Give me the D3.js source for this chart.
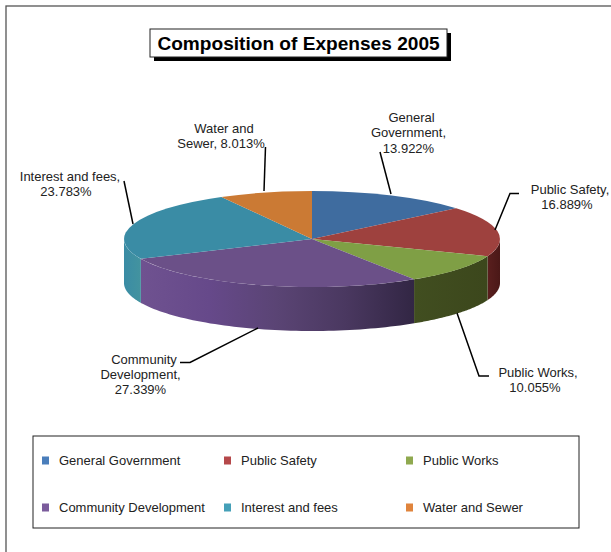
<!DOCTYPE html>
<html>
<head>
<meta charset="utf-8">
<script src="https://cdn.jsdelivr.net/npm/d3@7/dist/d3.min.js"></script>
<style>
  html, body { margin: 0; padding: 0; background: #fff; overflow: hidden; }
  svg { display: block; font-family: "Liberation Sans", Arial, sans-serif; }
</style>
</head>
<body>
<svg id="chart" width="611" height="552"></svg>
<script>
// Expense categories and their share of the 2005 total, percent
const categories = ["General Government", "Public Safety", "Public Works",
                    "Community Development", "Interest and fees", "Water and Sewer"];
const shares = [13.922, 16.889, 10.055, 27.339, 23.783, 8.013];

// Callout wording, one array of leading lines per slice; the percentage is appended from shares
const calloutLines = [
  ["General", "Government,"],
  ["Public Safety,"],
  ["Public Works,"],
  ["Community", "Development,"],
  ["Interest and fees,"],
  ["Water and"]
];
const topColors    = ["#3f6c9f", "#9e413e", "#7f9f45", "#6b5088", "#3a8ca5", "#cb7a34"];
const legendColors = ["#4a7ebb", "#b5484a", "#8fa94f", "#7b5c9c", "#45a0b8", "#e0843c"];
// Colour ramps of the rim, left to right, for each slice
const rimRamps = [
  ["#3f6c9f", "#3f6c9f"],
  ["#5a1f1e", "#4a1817"],
  ["#414e20", "#3c471c"],
  ["#6f5290", "#66498a", "#5a4474", "#4a3860", "#322644"],
  ["#3a8ca5", "#43939f"],
  ["#cb7a34", "#cb7a34"]
];

// Pie geometry
const cx = 312, cy = 239, rx = 188, ry = 48, depth = 44;

// Per-slice callout layout: centre of each text line, first baseline, leader polyline
const calloutLayout = [
  { centers: [411.5, 408.5, 408.5], y: 122, leader: [[380, 152], [391, 194]] },
  { centers: [570, 567],            y: 193.5, leader: [[519, 193.5], [510, 193.5], [495, 230]] },
  { centers: [538, 535],            y: 376.5, leader: [[457, 313], [479, 376], [489, 376]] },
  { centers: [144, 140.5, 140.5],   y: 363.5, leader: [[180, 362.5], [190, 362.5], [258, 328]] },
  { centers: [70, 66],              y: 181, leader: [[124, 181], [133, 224]] },
  { centers: [224, 221],            y: 132.5, leader: [[265.5, 147], [264, 191]] }
];
const lineStep = 15.3;

const svg = d3.select("#chart");
const defs = svg.append("defs");

// Chart frame runs off the right and bottom of the page
svg.append("rect").attr("x", 6).attr("y", 6).attr("width", 640).attr("height", 600)
  .attr("fill", "#fff").attr("stroke", "#555").attr("stroke-width", 1.3);

// Title box with hard drop shadow
const titleBox = { x: 150, y: 29, w: 297, h: 28, off: 4 };
svg.append("rect").attr("x", titleBox.x + titleBox.off).attr("y", titleBox.y + titleBox.off)
  .attr("width", titleBox.w).attr("height", titleBox.h).attr("fill", "#000");
svg.append("rect").attr("x", titleBox.x).attr("y", titleBox.y)
  .attr("width", titleBox.w).attr("height", titleBox.h)
  .attr("fill", "#fff").attr("stroke", "#222").attr("stroke-width", 1);
svg.append("text").attr("x", titleBox.x + titleBox.w / 2).attr("y", 50)
  .attr("text-anchor", "middle").attr("font-size", 19.1).attr("font-weight", "bold")
  .attr("fill", "#000").text("Composition of Expenses 2005");

// Slice angles, clockwise from twelve o'clock
const slices = d3.pie().sort(null).value(d => d)(shares);

const px = a => cx + rx * Math.sin(a);
const py = a => cy - ry * Math.cos(a);

// Rim: only the front half of the ellipse is visible
const rimStart = Math.PI / 2, rimEnd = Math.PI * 3 / 2;
const rim = svg.append("g");
slices.forEach((s, i) => {
  const a0 = Math.max(s.startAngle, rimStart), a1 = Math.min(s.endAngle, rimEnd);
  if (a1 <= a0) return;
  const xs = [px(a0), px(a1)];
  const gid = "rim" + i;
  const g = defs.append("linearGradient").attr("id", gid)
    .attr("gradientUnits", "userSpaceOnUse")
    .attr("x1", d3.min(xs)).attr("x2", d3.max(xs)).attr("y1", 0).attr("y2", 0);
  rimRamps[i].forEach((c, k, arr) => {
    g.append("stop").attr("offset", k / (arr.length - 1)).attr("stop-color", c);
  });
  const angles = d3.range(0, 61).map(k => a0 + (a1 - a0) * k / 60);
  const upper = angles.map(a => [px(a), py(a)]);
  const lower = angles.slice().reverse().map(a => [px(a), py(a) + depth]);
  rim.append("path")
    .attr("d", d3.line()(upper.concat(lower)) + "Z")
    .attr("fill", `url(#${gid})`);
});

// Top face: unit-radius arcs squashed into the ellipse
const arcGen = d3.arc().innerRadius(0).outerRadius(1);
svg.append("g")
  .attr("transform", `translate(${cx},${cy}) scale(${rx},${ry})`)
  .selectAll("path").data(slices).join("path")
  .attr("d", arcGen)
  .attr("fill", (d, i) => topColors[i]);

// Leaders and callouts
const leaderLine = d3.line();
const fmt = d3.format(".3f");
calloutLayout.forEach((c, i) => {
  svg.append("path").attr("d", leaderLine(c.leader))
    .attr("fill", "none").attr("stroke", "#000").attr("stroke-width", 1.5);
  const lines = calloutLines[i].slice();
  const pct = fmt(shares[i]) + "%";
  if (i === 5) {
    lines.push("Sewer, " + pct);
  } else {
    lines.push(pct);
  }
  lines.forEach((t, k) => {
    svg.append("text")
      .attr("x", c.centers[k]).attr("y", c.y + k * lineStep)
      .attr("text-anchor", "middle").attr("font-size", 13).attr("fill", "#222")
      .text(t);
  });
});

// Legend
const legendBox = { x: 33, y: 436, w: 546, h: 92 };
svg.append("rect").attr("x", legendBox.x).attr("y", legendBox.y)
  .attr("width", legendBox.w).attr("height", legendBox.h)
  .attr("fill", "#fff").attr("stroke", "#222").attr("stroke-width", 1);
const legendCols = d3.scaleOrdinal().domain([0, 1, 2]).range([42, 224, 406]);
const legendRows = d3.scaleOrdinal().domain([0, 1]).range([460, 507]);
const legend = svg.append("g").selectAll("g").data(categories).join("g")
  .attr("transform", (d, i) => `translate(${legendCols(i % 3)},${legendRows(Math.floor(i / 3))})`);
legend.append("rect").attr("x", 0).attr("y", -3.5).attr("width", 7).attr("height", 8)
  .attr("fill", (d, i) => legendColors[i]);
legend.append("text").attr("x", 17).attr("y", 5)
  .attr("font-size", 13).attr("fill", "#222").text(d => d);
</script>
</body>
</html>
